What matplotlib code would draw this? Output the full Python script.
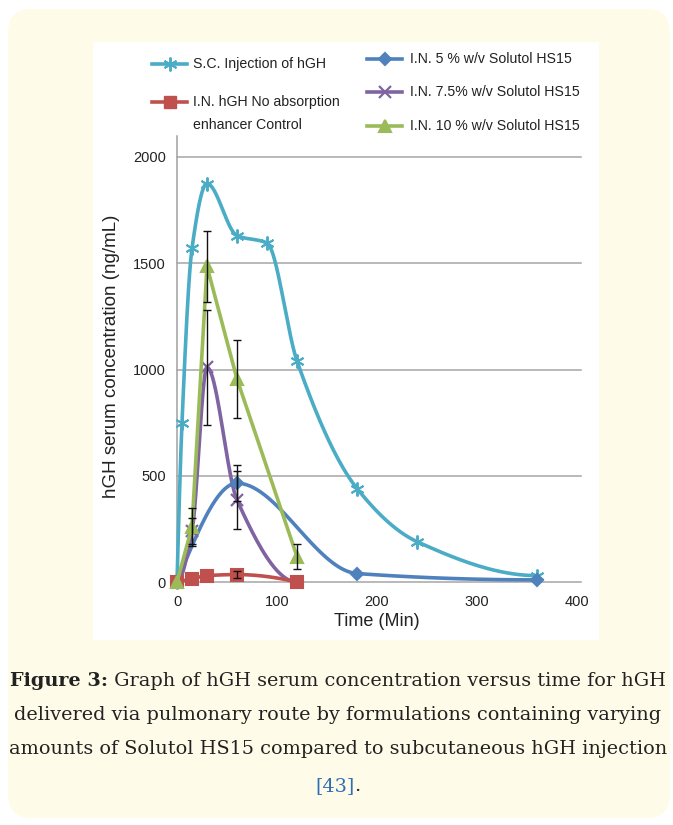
import numpy as np
import matplotlib
matplotlib.use("Agg")
import matplotlib.pyplot as plt
from matplotlib.patches import FancyBboxPatch, Rectangle
from matplotlib.lines import Line2D

# ---------------- data ----------------
sc_t = [0, 5, 15, 30, 60, 90, 120, 180, 240, 360]
sc_y = [0, 750, 1570, 1875, 1630, 1595, 1040, 440, 190, 30]

ctrl_t = [0, 15, 30, 60, 120]
ctrl_y = [0, 15, 30, 35, 0]
ctrl_err = [0, 0, 0, 15, 0]

s5_t = [0, 60, 180, 360]
s5_y = [0, 465, 40, 10]
s5_err = [0, 85, 0, 0]

s75_t = [0, 15, 30, 60, 120]
s75_y = [0, 240, 1010, 386, 0]
s75_err = [0, 60, 270, 135, 0]

s10_t = [0, 15, 30, 60, 120]
s10_y = [0, 260, 1485, 955, 120]
s10_err = [0, 90, 165, 185, 60]

x_ticks = [0, 100, 200, 300, 400]
y_ticks = [0, 500, 1000, 1500, 2000]

labels = ["S.C. Injection of hGH",
          "I.N. hGH No absorption\nenhancer Control",
          "I.N. 5 % w/v Solutol HS15",
          "I.N. 7.5% w/v Solutol HS15",
          "I.N. 10 % w/v Solutol HS15"]

C_SC = "#4bacc6"
C_CT = "#c0504d"
C_5 = "#4f81bd"
C_75 = "#8064a2"
C_10 = "#9bbb59"

W, H = 673, 825
fig = plt.figure(figsize=(W / 100, H / 100), dpi=100)
fig.patch.set_facecolor("white")

def fx(p):
    return p / W

def fy(p):
    return 1 - p / H

# background cream box
bg = FancyBboxPatch((fx(8), fy(818)), fx(670) - fx(8), fy(9) - fy(818),
                    boxstyle="round,pad=0,rounding_size=0.035",
                    transform=fig.transFigure, facecolor="#fffbe9",
                    edgecolor="none", zorder=-3, mutation_aspect=W / H)
fig.patches.append(bg)
panel = Rectangle((fx(93), fy(640)), fx(599) - fx(93), fy(42) - fy(640),
                  transform=fig.transFigure, facecolor="white",
                  edgecolor="none", zorder=-2)
fig.patches.append(panel)

ax = fig.add_axes([fx(177), fy(582), fx(577) - fx(177), fy(157) - fy(582)])
ax.set_zorder(1)
ax.set_facecolor("none")
ax.set_xlim(0, 400)
ax.set_ylim(0, 2000)
for s in ["top", "right", "bottom", "left"]:
    ax.spines[s].set_visible(False)
ax.plot([0, 0], [-0.01, 1.05], transform=ax.transAxes, color="#a0a0a0",
        lw=1.1, clip_on=False, zorder=1)
for yv in y_ticks:
    ax.axhline(yv, color="#a6a6a6", lw=1.1, zorder=1, xmax=1.01, clip_on=False)

tick_font = dict(family="Liberation Sans", size=10.5, color="#222222")
ax.set_xticks(x_ticks)
ax.set_yticks(y_ticks)
ax.set_xticklabels([str(v) for v in x_ticks], **tick_font)
ax.set_yticklabels([str(v) for v in y_ticks], **tick_font)
ax.tick_params(axis="both", length=0)
ax.tick_params(axis="x", pad=9)
ax.tick_params(axis="y", pad=8)
ax.set_xlabel("Time (Min)", family="Liberation Sans", size=13, color="#222222",
              labelpad=3)
ax.set_ylabel("hGH serum concentration (ng/mL)", family="Liberation Sans",
              size=13.5, color="#222222")
ax.yaxis.set_label_coords(-0.1425, 0.53)


def smooth(x, y, n=40):
    """Shape-preserving cubic Hermite (Fritsch-Carlson) for drawing."""
    x = np.asarray(x, float)
    y = np.asarray(y, float)
    h = np.diff(x)
    d = np.diff(y) / h
    m = np.zeros_like(y)
    for k in range(1, len(x) - 1):
        if d[k - 1] * d[k] <= 0:
            m[k] = 0.0
        else:
            w1 = 2 * h[k] + h[k - 1]
            w2 = h[k] + 2 * h[k - 1]
            m[k] = (w1 + w2) / (w1 / d[k - 1] + w2 / d[k])

    def endslope(h0, h1, d0, d1):
        s = ((2 * h0 + h1) * d0 - h0 * d1) / (h0 + h1)
        if np.sign(s) != np.sign(d0):
            s = 0.0
        elif np.sign(d0) != np.sign(d1) and abs(s) > abs(3 * d0):
            s = 3 * d0
        return s

    if len(x) > 2:
        m[0] = endslope(h[0], h[1], d[0], d[1])
        m[-1] = endslope(h[-1], h[-2], d[-1], d[-2])
    else:
        m[:] = d[0]
    xs, ys = [], []
    for i in range(len(x) - 1):
        s = np.linspace(0, 1, n)
        h00 = 2 * s ** 3 - 3 * s ** 2 + 1
        h10 = s ** 3 - 2 * s ** 2 + s
        h01 = -2 * s ** 3 + 3 * s ** 2
        h11 = s ** 3 - s ** 2
        xx = x[i] + s * h[i]
        yy = h00 * y[i] + h10 * h[i] * m[i] + h01 * y[i + 1] + h11 * h[i] * m[i + 1]
        if i > 0:
            xx, yy = xx[1:], yy[1:]
        xs.append(xx)
        ys.append(yy)
    return np.concatenate(xs), np.concatenate(ys)

LW = 2.6

def series(t, y, color, marker, ms, smooth_line=True, mew=1.5, z=3):
    if smooth_line:
        sx, sy = smooth(t, y)
    else:
        sx, sy = t, y
    ax.plot(sx, sy, color=color, lw=LW, clip_on=False, zorder=z,
            solid_capstyle="round")
    ax.plot(t, y, linestyle="none", marker=marker, ms=ms, color=color,
            mec=color, mew=mew, clip_on=False, zorder=z + 0.1)

series(sc_t, sc_y, C_SC, (6, 2, 0), 10, mew=1.4)
series(ctrl_t, ctrl_y, C_CT, "s", 8, z=3.4)
series(s5_t, s5_y, C_5, "D", 6.5, z=3.2)
series(s75_t, s75_y, C_75, "x", 8, mew=1.6, z=3.3)
series(s10_t, s10_y, C_10, "^", 8.5, smooth_line=False, z=3.5)

ekw = dict(fmt="none", ecolor="#111111", elinewidth=1.0, capsize=3,
           capthick=1.0, zorder=5)
for t, y, e in [(ctrl_t, ctrl_y, ctrl_err), (s5_t, s5_y, s5_err),
                (s75_t, s75_y, s75_err), (s10_t, s10_y, s10_err)]:
    tt = [a for a, ee in zip(t, e) if ee > 0]
    yy = [b for b, ee in zip(y, e) if ee > 0]
    ee2 = [ee for ee in e if ee > 0]
    eb = ax.errorbar(tt, yy, yerr=ee2, **ekw)
    for art in list(eb.lines[1]) + list(eb.lines[2]):
        art.set_clip_on(False)

# -------- legend (manual) --------
leg_font = dict(family="Liberation Sans", size=10.2, color="#222222")

def leg_entry(x0, x1, yp, color, marker, ms, mew, text, tx):
    fig.add_artist(Line2D([fx(x0), fx(x1)], [fy(yp), fy(yp)], color=color,
                          lw=LW, transform=fig.transFigure))
    fig.add_artist(Line2D([fx((x0 + x1) / 2)], [fy(yp)], color=color,
                          marker=marker, ms=ms, mew=mew, mec=color,
                          transform=fig.transFigure))
    fig.text(fx(tx), fy(yp), text, ha="left", va="center", **leg_font)

leg_entry(152, 187, 64, C_SC, (6, 2, 0), 10, 1.4, labels[0], 193)
fig.add_artist(Line2D([fx(152), fx(187)], [fy(102), fy(102)], color=C_CT,
                      lw=LW, transform=fig.transFigure))
fig.add_artist(Line2D([fx(169.5)], [fy(102)], color=C_CT, marker="s", ms=8,
                      transform=fig.transFigure))
fig.text(fx(193), fy(102), labels[1].split("\n")[0], ha="left", va="center",
         **leg_font)
fig.text(fx(193), fy(125), labels[1].split("\n")[1], ha="left", va="center",
         **leg_font)
leg_entry(367, 402, 59, C_5, "D", 6.5, 1.5, labels[2], 410)
leg_entry(367, 402, 92, C_75, "x", 8, 1.6, labels[3], 410)
leg_entry(367, 402, 126, C_10, "^", 8.5, 1.5, labels[4], 410)

# -------- caption --------
cap_family = "DejaVu Serif"
cap_size = 13.0
cx = 338
renderer = fig.canvas.get_renderer()

def width_of(txt, weight="normal", size=cap_size):
    t = fig.text(0, 0, txt, family=cap_family, size=size, weight=weight)
    w = t.get_window_extent(renderer=renderer).width
    t.remove()
    return w

b1 = "Figure 3:"
r1 = " Graph of hGH serum concentration versus time for hGH"
line2 = "delivered via pulmonary route by formulations containing varying"
line3 = "amounts of Solutol HS15 compared to subcutaneous hGH injection"
widest = max(width_of(b1, "bold") + width_of(r1), width_of(line2),
             width_of(line3))
cap_size = cap_size * 656 / widest

wb = width_of(b1, "bold", cap_size)
wr = width_of(r1, "normal", cap_size)
start = cx - (wb + wr) / 2
cap_kw = dict(family=cap_family, size=cap_size, color="#222222", va="center")
fig.text(fx(start), fy(681), b1, ha="left", weight="bold", **cap_kw)
fig.text(fx(start + wb), fy(681), r1, ha="left", **cap_kw)
fig.text(fx(cx), fy(715), line2, ha="center", **cap_kw)
fig.text(fx(cx), fy(749), line3, ha="center", **cap_kw)
w43 = width_of("[43]", "normal", cap_size)
wdot = width_of(".", "normal", cap_size)
s4 = cx - (w43 + wdot) / 2
cap_kw4 = dict(cap_kw)
cap_kw4["color"] = "#2f6db5"
fig.text(fx(s4), fy(786), "[43]", ha="left", **cap_kw4)
fig.text(fx(s4 + w43), fy(786), ".", ha="left", **cap_kw)

fig.savefig("out.png", dpi=100, facecolor="white")
